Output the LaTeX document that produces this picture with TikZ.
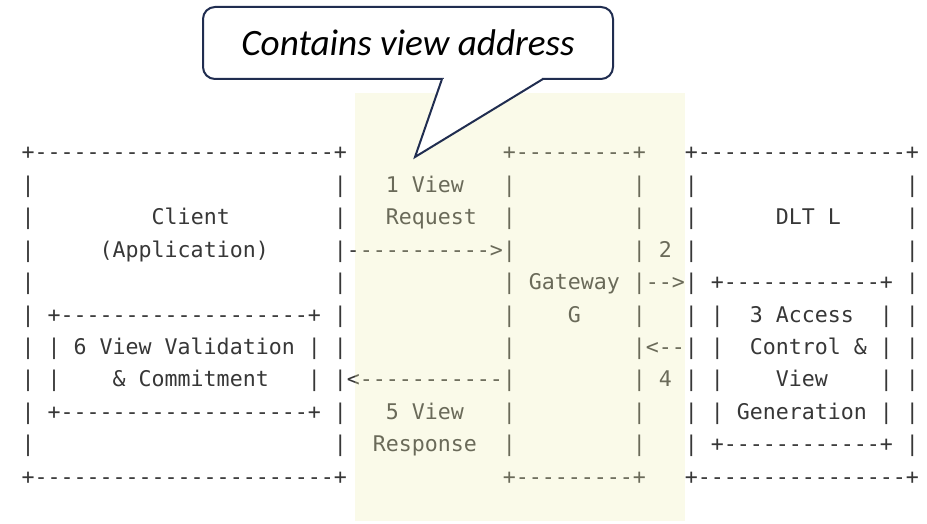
\documentclass[tikz,border=0pt]{standalone}
\usepackage{fontspec}
\setmonofont{DejaVu Sans Mono}
\newfontfamily\calfont{Carlito}
\ExplSyntaxOn
\cs_new:Npn \myrep #1#2 { \prg_replicate:nn {#1} {#2} }
\ExplSyntaxOff
\newcommand\spc[1]{\myrep{#1}{\ }}
\newcommand\dsh[1]{\myrep{#1}{-}}
\definecolor{ink}{RGB}{55,55,55}
\definecolor{hl}{RGB}{240,240,179}
\definecolor{navy}{RGB}{32,45,80}
\begin{document}
\begin{tikzpicture}[x=1pt,y=-1pt,
  asc/.style={anchor=base west, inner sep=0pt, text=ink,
    font=\ttfamily\fontsize{21.6}{26}\selectfont},
  callbox/.style={draw=navy, line width=2pt, fill=white, rounded corners=12pt,
    minimum width=410pt, minimum height=72pt, inner sep=0pt, text=black,
    font=\calfont\itshape\fontsize{37.2}{42}\selectfont},
  ptr/.style={draw=navy, line width=2pt, line join=miter}]
\useasboundingbox (0,0) rectangle (927,524);
\fill[white] (0,0) rectangle (927,524);

\node[asc] (r0) at (21.5,160.0) {+\dsh{23}+\spc{12}+\dsh{9}+\spc{3}+\dsh{16}+};
\node[asc] (r1) at (21.5,192.4) {|\spc{23}|\spc{3}1 View\spc{3}|\spc{9}|\spc{3}|\spc{16}|};
\node[asc] (r2) at (21.5,224.8) {|\spc{9}Client\spc{8}|\spc{3}Request\spc{2}|\spc{9}|\spc{3}|\spc{6}DLT L\spc{5}|};
\node[asc] (r3) at (21.5,257.2) {|\spc{5}(Application)\spc{5}|\dsh{11}>|\spc{9}|\spc{1}2\spc{1}|\spc{16}|};
\node[asc] (r4) at (21.5,289.6) {|\spc{23}|\spc{12}|\spc{1}Gateway\spc{1}|\dsh{2}>|\spc{1}+\dsh{12}+\spc{1}|};
\node[asc] (r5) at (21.5,322.0) {|\spc{1}+\dsh{19}+\spc{1}|\spc{12}|\spc{4}G\spc{4}|\spc{3}|\spc{1}|\spc{2}3 Access\spc{2}|\spc{1}|};
\node[asc] (r6) at (21.5,354.4) {|\spc{1}|\spc{1}6 View Validation\spc{1}|\spc{1}|\spc{12}|\spc{9}|<\dsh{2}|\spc{1}|\spc{2}Control \&\spc{1}|\spc{1}|};
\node[asc] (r7) at (21.5,386.8) {|\spc{1}|\spc{4}\& Commitment\spc{3}|\spc{1}|<\dsh{11}|\spc{9}|\spc{1}4\spc{1}|\spc{1}|\spc{4}View\spc{4}|\spc{1}|};
\node[asc] (r8) at (21.5,419.2) {|\spc{1}+\dsh{19}+\spc{1}|\spc{3}5 View\spc{3}|\spc{9}|\spc{3}|\spc{1}|\spc{1}Generation\spc{1}|\spc{1}|};
\node[asc] (r9) at (21.5,451.6) {|\spc{23}|\spc{2}Response\spc{2}|\spc{9}|\spc{3}|\spc{1}+\dsh{12}+\spc{1}|};
\node[asc] (r10) at (21.5,484.0) {+\dsh{23}+\spc{12}+\dsh{9}+\spc{3}+\dsh{16}+};

% highlighted band
\fill[hl, opacity=0.28] (355,93) rectangle (685,521);

% callout
\node[callbox] (call) at (408,43) {Contains view address};
\coordinate (tip) at (415,157);
\coordinate (pl) at (442,79);
\coordinate (pr) at (543,79);
\fill[white] (pl) -- (tip) -- (pr) -- cycle;
\fill[white] (443.5,77) rectangle (541.5,81);
\draw[ptr] (pl) -- (tip) -- (pr);
\end{tikzpicture}
\end{document}
